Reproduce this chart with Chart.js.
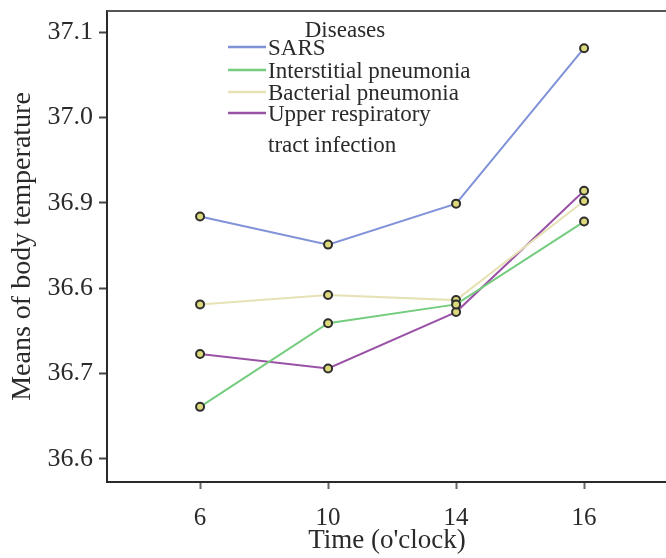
<!DOCTYPE html>
<html>
<head>
<meta charset="utf-8">
<script src="https://cdn.jsdelivr.net/npm/chart.js@4"></script>
<style>
  body { margin: 0; background: #ffffff; }
  #wrap { width: 666px; height: 558px; }
</style>
</head>
<body>
<div id="wrap"><canvas id="tempChart" width="666" height="558"></canvas></div>
<script>
// Categories and series
const times = ['6', '10', '14', '16'];
const sarsTemps = [36.884, 36.851, 36.899, 37.081];
const interstitialTemps = [36.661, 36.759, 36.781, 36.878];
const bacterialTemps = [36.781, 36.792, 36.786, 36.902];
const upperRespTemps = [36.723, 36.706, 36.772, 36.914];

// Y tick values and the labels printed beside them
const tickValues = [36.6, 36.7, 36.8, 36.9, 37.0, 37.1];
const tickLabels = ['36.6', '36.7', '36.6', '36.9', '37.0', '37.1'];

const serif = '"Liberation Serif", "Times New Roman", serif';
const textColor = '#2a2a2a';

function toPoints(values) {
    return values.map((v, i) => ({ x: i, y: v }));
}

function makeSeries(label, values, color) {
    return {
        label: label,
        data: toPoints(values),
        borderColor: color,
        borderWidth: 2,
        pointRadius: 4,
        pointBorderWidth: 2,
        pointBackgroundColor: '#dcd87c',
        pointBorderColor: '#2e2e2e',
        tension: 0
    };
}

// Legend drawn inside the plot, plus top frame line and x title
const framePlugin = {
    id: 'frame',
    afterDraw(chart) {
        const c = chart.ctx;
        const area = chart.chartArea;
        c.save();

        c.strokeStyle = '#555555';
        c.lineWidth = 2;
        c.beginPath();
        c.moveTo(area.left, area.top);
        c.lineTo(chart.width, area.top);
        c.stroke();

        c.fillStyle = textColor;
        c.font = '27px ' + serif;
        c.textAlign = 'center';
        c.textBaseline = 'alphabetic';
        c.fillText("Time (o'clock)", 387, 548);

        c.font = '23px ' + serif;
        c.fillText('Diseases', 345, 37);

        const baselines = [55, 78, 100, 121];
        c.textAlign = 'left';
        chart.data.datasets.forEach((ds, i) => {
            const y = baselines[i];
            c.strokeStyle = ds.borderColor;
            c.lineWidth = 2.5;
            c.beginPath();
            c.moveTo(228, y - 8);
            c.lineTo(266, y - 8);
            c.stroke();
            const lines = ds.label.split('\n');
            lines.forEach((t, k) => {
                c.fillText(t, 268, y + k * 31);
            });
        });
        c.restore();
    }
};

const ctx = document.getElementById('tempChart');

new Chart(ctx, {
    type: 'line',
    data: {
        datasets: [
            makeSeries('SARS', sarsTemps, '#8092d8'),
            makeSeries('Interstitial pneumonia', interstitialTemps, '#74cc7e'),
            makeSeries('Bacterial pneumonia', bacterialTemps, '#e6e2b6'),
            makeSeries('Upper respiratory\ntract infection', upperRespTemps, '#9a52a6')
        ]
    },
    options: {
        responsive: false,
        animation: false,
        layout: { autoPadding: false, padding: { top: 11, right: 0, left: 0, bottom: 0 } },
        plugins: {
            legend: { display: false },
            tooltip: { enabled: false }
        },
        scales: {
            x: {
                type: 'linear',
                min: -0.727,
                max: 3.64,
                afterFit(scale) {
                    scale.height = 76;
                    scale.paddingLeft = 0;
                    scale.paddingRight = 0;
                },
                border: { color: '#2a2a2a', width: 2 },
                grid: { drawOnChartArea: false, tickLength: 7, tickWidth: 2, tickColor: '#666666' },
                ticks: {
                    stepSize: 1,
                    includeBounds: false,
                    autoSkip: false,
                    maxRotation: 0,
                    padding: 14,
                    color: textColor,
                    font: { family: serif, size: 25 },
                    callback: (v) => times[v] ?? ''
                }
            },
            y: {
                min: 36.573,
                max: 37.1246,
                afterFit(scale) {
                    scale.width = 107;
                    scale.paddingTop = 0;
                    scale.paddingBottom = 0;
                },
                border: { color: '#2a2a2a', width: 2 },
                grid: { drawOnChartArea: false, tickLength: 8, tickWidth: 2, tickColor: '#444444' },
                title: {
                    display: true,
                    text: 'Means of body temperature',
                    color: textColor,
                    font: { family: serif, size: 28 },
                    padding: { top: 6, bottom: 0 }
                },
                ticks: {
                    stepSize: 0.1,
                    includeBounds: false,
                    padding: 6,
                    color: textColor,
                    font: { family: serif, size: 26 },
                    callback: (v) => {
                        const idx = tickValues.findIndex(t => Math.abs(t - v) < 1e-6);
                        return idx >= 0 ? tickLabels[idx] : '';
                    }
                }
            }
        }
    },
    plugins: [framePlugin]
});
</script>
</body>
</html>
